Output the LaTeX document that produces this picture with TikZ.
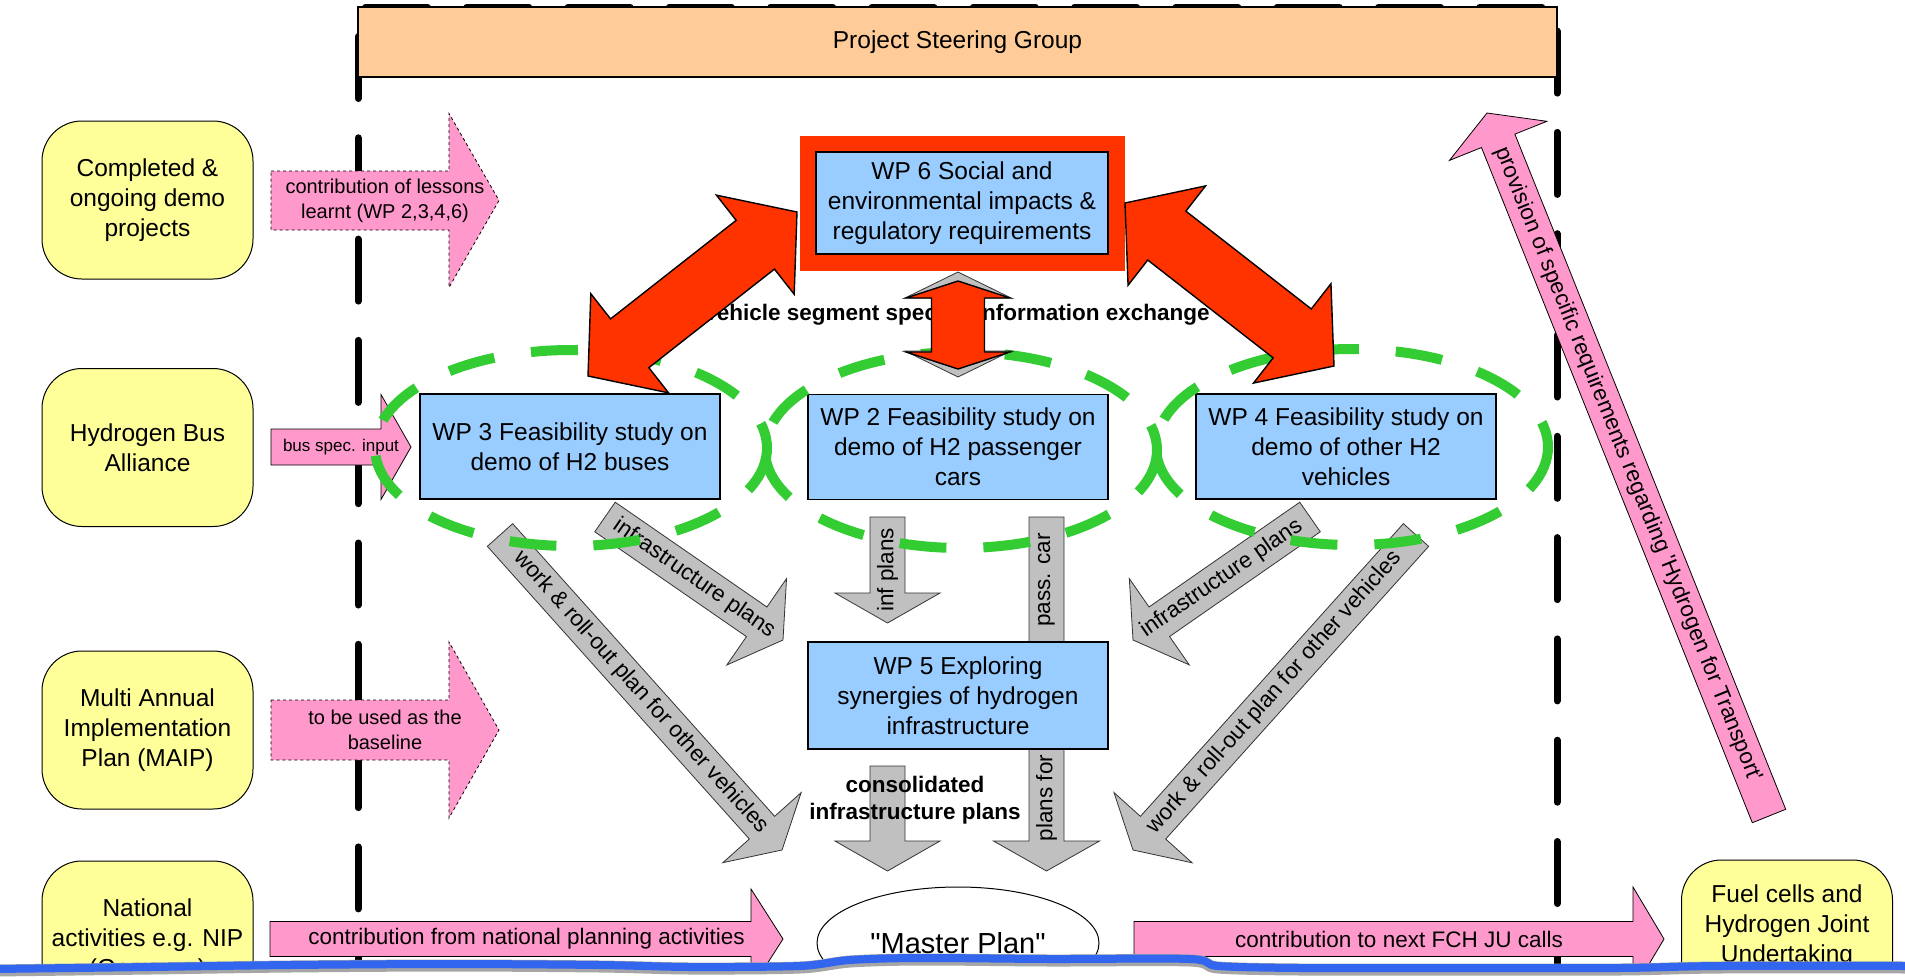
\documentclass[tikz,border=0pt]{standalone}
\usepackage{fontspec}
\setmainfont{Liberation Sans}
\usetikzlibrary{calc,shapes.geometric}
\definecolor{steerpeach}{HTML}{FFCC99}
\definecolor{partneryellow}{HTML}{FFFF99}
\definecolor{wpblue}{HTML}{99CCFF}
\definecolor{flowpink}{HTML}{FF99CC}
\definecolor{flowgray}{HTML}{C0C0C0}
\definecolor{exchangered}{HTML}{FF3300}
\definecolor{clustergreen}{HTML}{33CC33}
\definecolor{tearblue}{HTML}{3366EE}
\newcommand{\blockarrow}[6][]{%
  \coordinate (headbase) at ($(#3)!#6!(#2)$);
  \draw[#1] ($(#2)!#4!90:(#3)$) -- ($(headbase)!#4!90:(#3)$) -- ($(headbase)!#5!90:(#3)$) -- (#3)
    -- ($(headbase)!#5!-90:(#3)$) -- ($(headbase)!#4!-90:(#3)$) -- ($(#2)!#4!-90:(#3)$) -- cycle;
}
\newcommand{\twowayarrow}[6][]{%
  \coordinate (headbasea) at ($(#2)!#6!(#3)$);
  \coordinate (headbaseb) at ($(#3)!#6!(#2)$);
  \draw[#1] (#2) -- ($(headbasea)!#5!90:(#3)$) -- ($(headbasea)!#4!90:(#3)$) -- ($(headbaseb)!#4!90:(#3)$)
    -- ($(headbaseb)!#5!90:(#3)$) -- (#3) -- ($(headbaseb)!#5!-90:(#3)$) -- ($(headbaseb)!#4!-90:(#3)$)
    -- ($(headbasea)!#4!-90:(#3)$) -- ($(headbasea)!#5!-90:(#3)$) -- cycle;
}
\tikzset{
  partner/.style={draw, line width=1pt, fill=partneryellow, rounded corners=40pt, minimum width=211pt,
    minimum height=158pt, align=center, inner sep=0pt, font=\fontsize{24.5}{30}\selectfont},
  wpbox/.style={draw, line width=1.6pt, fill=wpblue, minimum width=300pt, minimum height=105pt,
    align=center, inner sep=0pt, font=\fontsize{24.5}{30}\selectfont},
  pinkflow/.style={fill=flowpink, draw, line width=0.8pt},
  grayflow/.style={fill=flowgray, draw=black!80, line width=0.8pt},
  redflow/.style={fill=exchangered, draw, line width=1.4pt},
  cluster/.style={draw=clustergreen, line width=10pt, dash pattern=on 47pt off 37pt},
  boundary/.style={line width=7pt, line cap=round, dash pattern=on 62pt off 39.3pt},
  smalltext/.style={align=center, font=\fontsize{20}{25}\selectfont},
  flowtext/.style={align=center, font=\fontsize{22.5}{27}\selectfont},
  boldtext/.style={align=center, font=\bfseries\fontsize{22.5}{27}\selectfont},
}
\begin{document}
\begin{tikzpicture}[x=1pt,y=-1pt]
\useasboundingbox (0,0) rectangle (1905,977);
\draw[boundary] (358,36.5) -- (358,985);
\draw[boundary] (365.5,7) -- (1557,7) -- (1557,985);
\node[draw, line width=1.2pt, fill=steerpeach, minimum width=1199pt, minimum height=70pt, inner sep=0pt,
  font=\fontsize{24.5}{30}\selectfont] (steering) at (957.5,42) {Project Steering Group};

\node[partner] (demos) at (147.5,200) {Completed \&\\ongoing demo\\projects};
\node[partner] (busalliance) at (147.5,447.5) {Hydrogen Bus\\Alliance};
\node[partner] (maip) at (147.5,730) {Multi Annual\\Implementation\\Plan (MAIP)};
\node[partner] (nip) at (147.5,940) {National\\activities e.g. NIP\\(Germany)};
\node[partner] (fchju) at (1787,939) {Fuel cells and\\Hydrogen Joint\\Undertaking\\\mbox{}};

\coordinate (lessons-tail) at (271,200.5);
\coordinate (lessons-tip) at (499,200.5);
\coordinate (busspec-tail) at (271,447);
\coordinate (busspec-tip) at (411,447);
\coordinate (baseline-tail) at (271,730);
\coordinate (baseline-tip) at (499,730);
\coordinate (national-tail) at (270,939);
\coordinate (national-tip) at (783,939);
\coordinate (calls-tail) at (1134,939);
\coordinate (calls-tip) at (1664,939);
\coordinate (provision-tail) at (1769,816);
\coordinate (provision-tip) at (1487,113);

\blockarrow[pinkflow, dashed]{lessons-tail}{lessons-tip}{29.5pt}{87pt}{50pt}
\blockarrow[pinkflow]{busspec-tail}{busspec-tip}{18pt}{52.5pt}{30pt}
\blockarrow[pinkflow, dashed]{baseline-tail}{baseline-tip}{30pt}{88pt}{50pt}
\blockarrow[pinkflow]{national-tail}{national-tip}{17.5pt}{50pt}{32pt}
\blockarrow[pinkflow]{calls-tail}{calls-tip}{17.5pt}{52pt}{31pt}
\blockarrow[pinkflow]{provision-tail}{provision-tip}{18pt}{52.5pt}{30pt}
\path (lessons-tail) -- (lessons-tip) node[midway, smalltext] (lessons) {contribution of lessons\\learnt (WP 2,3,4,6)};
\path (busspec-tail) -- (busspec-tip) node[midway, font=\fontsize{17}{20}\selectfont] (busspec) {bus spec. input};
\path (baseline-tail) -- (baseline-tip) node[midway, smalltext] (baseline) {to be used as the\\baseline};
\path (national-tail) -- (national-tip) node[midway, flowtext] (national) {contribution from national planning activities};
\path (calls-tail) -- (calls-tip) node[midway, flowtext] (calls) {contribution to next FCH JU calls};
\path (provision-tail) -- (provision-tip) node[midway, flowtext, rotate=-68.1] (provision)
  {provision of specific requirements regarding \textquotesingle Hydrogen for Transport\textquotesingle};

\coordinate (busroll-tail) at (500,535);
\coordinate (busroll-tip) at (782,850);
\coordinate (businfra-tail) at (605,517);
\coordinate (businfra-tip) at (783,640);
\coordinate (carinfra-tail) at (887.5,517);
\coordinate (carinfra-tip) at (887.5,623);
\coordinate (carplans-tail) at (1046.5,517);
\coordinate (carplans-tip) at (1046.5,871);
\coordinate (synergy-tail) at (887.5,766);
\coordinate (synergy-tip) at (887.5,871);
\coordinate (otherinfra-tail) at (1310,517);
\coordinate (otherinfra-tip) at (1133,640);
\coordinate (otherroll-tail) at (1416,535);
\coordinate (otherroll-tip) at (1133,850);

\blockarrow[grayflow]{busroll-tail}{busroll-tip}{17pt}{52.5pt}{30pt}
\blockarrow[grayflow]{businfra-tail}{businfra-tip}{18pt}{52.5pt}{32pt}
\blockarrow[grayflow]{carinfra-tail}{carinfra-tip}{17.5pt}{52.5pt}{30pt}
\blockarrow[grayflow]{carplans-tail}{carplans-tip}{17.5pt}{53pt}{30pt}
\blockarrow[grayflow]{synergy-tail}{synergy-tip}{17.5pt}{52.5pt}{30pt}
\blockarrow[grayflow]{otherinfra-tail}{otherinfra-tip}{18pt}{52.5pt}{32pt}
\blockarrow[grayflow]{otherroll-tail}{otherroll-tip}{17pt}{52.5pt}{30pt}
\path (busroll-tail) -- (busroll-tip) node[midway, flowtext, rotate=-48.2] (busroll) {work \& roll-out plan for other vehicles};
\path (businfra-tail) -- (businfra-tip) node[midway, flowtext, rotate=-34.6] (businfra) {infrastructure plans};
\path (carinfra-tail) -- (carinfra-tip) node[midway, flowtext, rotate=90] (carinfra) {inf plans};
\node[flowtext, rotate=90] (carplans-upper) at (1046.5,580) {pass. car};
\node[flowtext, rotate=90] (carplans-lower) at (1046.5,798) {plans for};
\path (otherinfra-tail) -- (otherinfra-tip) node[midway, flowtext, rotate=34.6] (otherinfra) {infrastructure plans};
\path (otherroll-tail) -- (otherroll-tip) node[midway, flowtext, rotate=48.2] (otherroll) {work \& roll-out plan for other vehicles};

\node[wpbox] (wp3) at (570,446.5) {WP 3 Feasibility study on\\demo of H2 buses};
\node[wpbox] (wp2) at (958,447) {WP 2 Feasibility study on\\demo of H2 passenger\\cars};
\node[wpbox] (wp4) at (1346,446.5) {WP 4 Feasibility study on\\demo of other H2\\vehicles};
\node[wpbox, minimum height=107pt] (wp5) at (958,695.5) {WP 5 Exploring\\synergies of hydrogen\\infrastructure};
\node[boldtext] (consolidated) at (915,800) {consolidated\\infrastructure plans};
\node[boldtext] (exchange) at (957,315) {vehicle segment specific information exchange};

\draw[cluster] (571,448) ellipse [x radius=196, y radius=98];
\draw[cluster] (961,450) ellipse [x radius=196, y radius=98];
\draw[cluster] (1352,447) ellipse [x radius=196, y radius=98];

\fill[exchangered] (800,136) rectangle (1125,271);
\node[wpbox, minimum width=292pt, minimum height=102pt] (wp6) at (962,203) {WP 6 Social and\\environmental impacts \&\\regulatory requirements};

\coordinate (wp6-left) at (797,212);
\coordinate (wp3-top) at (588,376);
\coordinate (wp6-right) at (1125,203);
\coordinate (wp4-top) at (1334,366);
\coordinate (wp6-shade) at (958,272);
\coordinate (wp2-shade) at (958,377);
\coordinate (wp6-bottom) at (958,281);
\coordinate (wp2-top) at (958,369);
\twowayarrow[redflow]{wp6-left}{wp3-top}{31pt}{63pt}{53pt}
\twowayarrow[redflow]{wp6-right}{wp4-top}{31pt}{63pt}{53pt}
\twowayarrow[grayflow]{wp6-shade}{wp2-shade}{26.5pt}{53pt}{26pt}
\twowayarrow[redflow]{wp6-bottom}{wp2-top}{26.5pt}{52pt}{17pt}

\node[draw, ellipse, fill=white, line width=1pt, minimum width=282pt, minimum height=112pt,
  font=\fontsize{29}{35}\selectfont] (masterplan) at (958,943) {\textquotedbl Master Plan\textquotedbl};

\fill[white] plot[smooth] coordinates {(-5,969) (150,967) (290,965) (450,964) (600,965) (690,967) (800,966)
  (850,960) (920,958) (1050,959) (1190,959) (1218,966) (1300,968) (1450,968) (1620,968) (1720,966) (1910,966)}
  -- (1910,990) -- (-5,990) -- cycle;
\draw[line width=12pt, black!35, yshift=-1.5pt] plot[smooth] coordinates {(-5,969) (150,967) (290,965) (450,964)
  (600,965) (690,967) (800,966) (850,960) (920,958) (1050,959) (1190,959) (1218,966) (1300,968) (1450,968)
  (1620,968) (1720,966) (1910,966)};
\draw[line width=8pt, tearblue] plot[smooth] coordinates {(-5,969) (150,967) (290,965) (450,964) (600,965)
  (690,967) (800,966) (850,960) (920,958) (1050,959) (1190,959) (1218,966) (1300,968) (1450,968) (1620,968)
  (1720,966) (1910,966)};
\end{tikzpicture}
\end{document}
